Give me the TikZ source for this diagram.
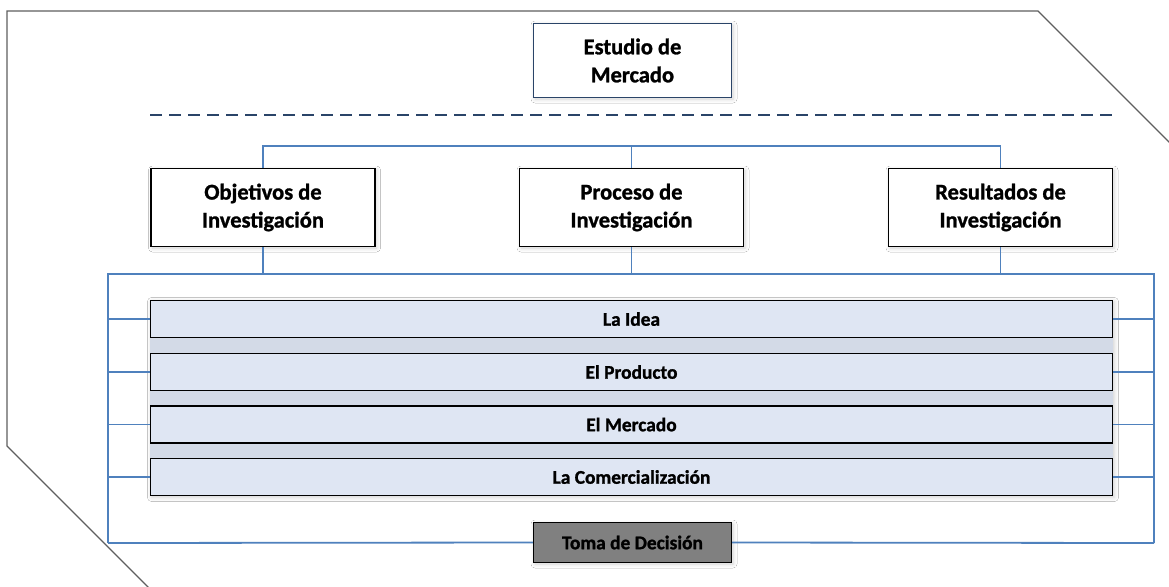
\documentclass[tikz,border=0pt]{standalone}
\usepackage{fontspec}
\setmainfont{Carlito}[BoldFeatures={FakeBold=1.2}]
\usetikzlibrary{shadows.blur}
\definecolor{conn}{HTML}{4F81BD}
\definecolor{outline}{HTML}{5F5F5F}
\definecolor{navy}{HTML}{2A4468}
\definecolor{barfill}{HTML}{DFE6F3}
\definecolor{barback}{HTML}{D3DAE7}
\definecolor{tomafill}{HTML}{808080}
\tikzset{
  softshadow/.style={blur shadow={shadow blur steps=6, shadow xshift=1.5pt, shadow yshift=-1.5pt, shadow opacity=18, shadow blur radius=4pt}},
  topbox/.style={draw=black, line width=1.6pt, fill=white, minimum width=224pt, minimum height=78pt, align=center, font=\fontsize{22.5}{28}\selectfont\bfseries, inner sep=0pt, softshadow},
  titlebox/.style={draw=navy, line width=1.4pt, fill=white, minimum width=198pt, minimum height=74pt, align=center, font=\fontsize{22.5}{28}\selectfont\bfseries, inner sep=0pt, softshadow},
  barbox/.style={draw=black, line width=1.4pt, fill=barfill, minimum width=962pt, minimum height=37pt, font=\fontsize{19.4}{22}\selectfont\bfseries, inner sep=0pt},
  tomabox/.style={draw=black, line width=1.4pt, fill=tomafill, minimum width=198pt, minimum height=40pt, font=\fontsize{19.4}{22}\selectfont\bfseries, inner sep=0pt, softshadow},
  wire/.style={draw=conn, line width=1.8pt},
  outer/.style={draw=outline, line width=1.3pt},
  sep/.style={draw=navy, line width=2pt, dash pattern=on 12pt off 7pt}
}
\begin{document}
\begin{tikzpicture}[x=1pt,y=-1pt]
\useasboundingbox (0,0) rectangle (1169,586);
\fill[white] (0,0) rectangle (1169,586);
\begin{scope}
\clip (0,0) rectangle (1169,586);
\draw[outer] (160,599) -- (7,446) -- (7,11) -- (1038,11) -- (1200,173);
\end{scope}
% title
\node[titlebox] (est) at (632.5,60.5) {Estudio de\\Mercado};
\coordinate (dl) at (150,115);
\coordinate (dr) at (1112,115);
\draw[sep] (dl) -- (dr);
% top boxes
\node[topbox] (obj) at (263,207.5) {Objetivos de\\Investigación};
\node[topbox] (pro) at (631.5,207.5) {Proceso de\\Investigación};
\node[topbox] (res) at (1000.5,207.5) {Resultados de\\Investigación};
\coordinate (tb) at (632,146);
\draw[wire] (obj.north) |- (tb) -| (res.north);
\draw[wire] (pro.north) -- (pro.north |- tb);
% bars
\fill[barback, softshadow] (150,300) rectangle (1113,496);
\node[barbox] (b1) at (631.5,319) {La Idea};
\node[barbox] (b2) at (631.5,372) {El Producto};
\node[barbox] (b3) at (631.5,424.5) {El Mercado};
\node[barbox] (b4) at (631.5,477) {La Comercialización};
% frame connectors
\coordinate (lt) at (108,274);
\coordinate (rt) at (1154,274);
\coordinate (lb) at (108,543);
\coordinate (rb) at (1154,543);
\node[tomabox] (toma) at (632.5,542.5) {Toma de Decisión};
\draw[wire] (obj.south) -- (obj.south |- lt);
\draw[wire] (pro.south) -- (pro.south |- lt);
\draw[wire] (res.south) -- (res.south |- rt);
\draw[wire] (lb) -- (lt) -- (rt) -- (rb);
\draw[wire] (lb) -- (toma.west);
\draw[wire] (rb) -- (toma.east);
\foreach \b in {b1,b2,b3,b4}{
  \draw[wire] (lt |- \b.west) -- (\b.west);
  \draw[wire] (rt |- \b.east) -- (\b.east);
}
\end{tikzpicture}
\end{document}
